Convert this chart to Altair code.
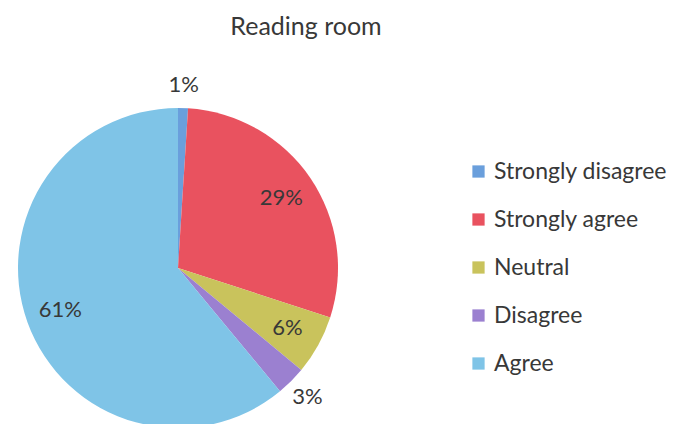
import math
import altair as alt
import pandas as pd

categories = ["Strongly disagree", "Strongly agree", "Neutral", "Disagree", "Agree"]
values = [1, 29, 6, 3, 61]
labels = ["1%", "29%", "6%", "3%", "61%"]
colors = ["#6a9fdc", "#e9525f", "#c9c35c", "#9b80d0", "#7fc4e7"]

df = pd.DataFrame({"cat": categories, "value": values, "label": labels,
                   "idx": list(range(len(categories)))})

FONT = "Lato"
CX, CY = 170, 260
TXT = "#383838"

pie = alt.Chart(df).mark_arc(outerRadius=160, x=CX, y=CY).encode(
    theta=alt.Theta("value:Q", stack=True),
    order=alt.Order("idx:Q"),
    color=alt.Color("cat:N", sort=categories,
                    scale=alt.Scale(domain=categories, range=colors),
                    legend=alt.Legend(title=None, orient="none", legendX=459, legendY=152,
                                      symbolType="square", symbolSize=150,
                                      labelFontSize=23, labelFont=FONT, labelColor=TXT,
                                      labelLimit=300,
                                      rowPadding=24, symbolStrokeWidth=0, labelOffset=4)),
)

text = alt.Chart(df).transform_window(
    cum="sum(value)", sort=[alt.SortField("idx")]
).transform_joinaggregate(
    total="sum(value)"
).transform_calculate(
    mid="(datum.cum - datum.value / 2) / datum.total",
    r="datum.value < 5 ? 183 : 125",
).mark_text(x=CX, y=CY, font=FONT, fontSize=22, color=TXT).encode(
    theta=alt.Theta("mid:Q", stack=None, scale=alt.Scale(domain=[0, 1], range=[0, 2 * math.pi])),
    radius=alt.Radius("r:Q", scale=None),
    text="label:N",
)

title = alt.Chart(pd.DataFrame({"t": ["Reading room"]})).mark_text(
    font=FONT, fontSize=25, color=TXT
).encode(x=alt.value(298), y=alt.value(19), text="t:N")

chart = alt.layer(pie, text, title).resolve_scale(theta="independent").properties(
    width=668, height=408, padding=0
).configure_view(stroke=None)

chart.save("out.html", embed_options={"renderer": "svg", "actions": False})
